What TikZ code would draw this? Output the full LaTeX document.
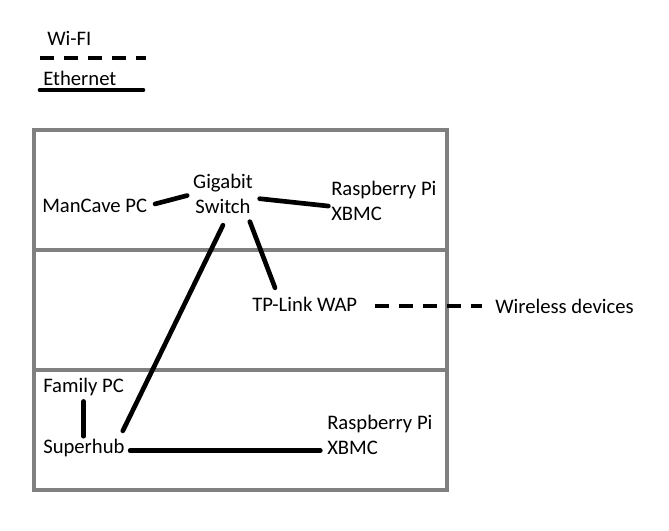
\documentclass[tikz,border=0pt]{standalone}
\usepackage{fontspec}
\setmainfont{Carlito}
\definecolor{floorgray}{RGB}{128,128,128}
\usetikzlibrary{calc, positioning}
\begin{document}
\begin{tikzpicture}[
        x=0.75pt, y=-0.75pt,
        every node/.style={font=\fontsize{15.5}{19}\selectfont, inner sep=0pt},
        lefttext/.style={anchor=west, align=left},
        device/.style={align=center},
        eth/.style={line width=3.5pt, line cap=round},
        wifi/.style={line width=3.5pt, dash pattern=on 10.5pt off 7.5pt},
        wall/.style={line width=3pt, draw=floorgray}
    ]
    \useasboundingbox (0,0) rectangle (669,531);

    % floors
    \draw[wall] (34,130) rectangle (447,490);
    \draw[wall] (34,250) -- (447,250);
    \draw[wall] (34,370) -- (447,370);

    % legend
    \node[lefttext] (keywifi) at (47,38) {Wi-FI};
    \node[lefttext] (keyeth) at (43,78) {Ethernet};
    \draw[wifi] (40,58) -- (146,58);
    \draw[eth] (40,90) -- (143,90);

    \node[lefttext] (mancave) at (42,206) {ManCave PC};
    \node[device] (switch) at (223,194) {Gigabit\\Switch};
    \node[lefttext] (rpiup) at (331,201) {Raspberry Pi\\XBMC};
    \node[lefttext] (wap) at (252,304) {TP-Link WAP};
    \node[lefttext] (wireless) at (495,306) {Wireless devices};
    \node[lefttext] (family) at (43,387) {Family PC};
    \node[lefttext] (superhub) at (43,448) {Superhub};
    \node[lefttext] (rpidown) at (327,435) {Raspberry Pi\\XBMC};

    \draw[eth, shorten <=6pt, shorten >=4.5pt] (mancave.east) -- (switch.west);
    \draw[eth, shorten <=5pt, shorten >=2pt] ([yshift=-3pt]switch.east) -- ([yshift=-4pt]rpiup.west);
    \draw[eth] ([yshift=-8.25pt]switch.south) -- ([xshift=-1.5pt, yshift=6pt]superhub.north east);
    \draw[eth, shorten <=6pt, shorten >=7pt] ($(switch.south)!0.8!(switch.south east)$) -- ($(wap.north west)!0.25!(wap.north east)$);
    \draw[wifi, shorten <=13pt, shorten >=9.75pt] ([yshift=-1.5pt]wap.east) -- ([yshift=-1.5pt]wap.east -| wireless.west);
    \draw[eth, shorten <=4pt, shorten >=2pt] (family.south) -- (family.south |- superhub.north);
    \draw[eth, shorten <=4pt, shorten >=5pt] ([yshift=-2pt]superhub.east) -- ([yshift=-2pt]superhub.east -| rpidown.west);
\end{tikzpicture}
\end{document}
